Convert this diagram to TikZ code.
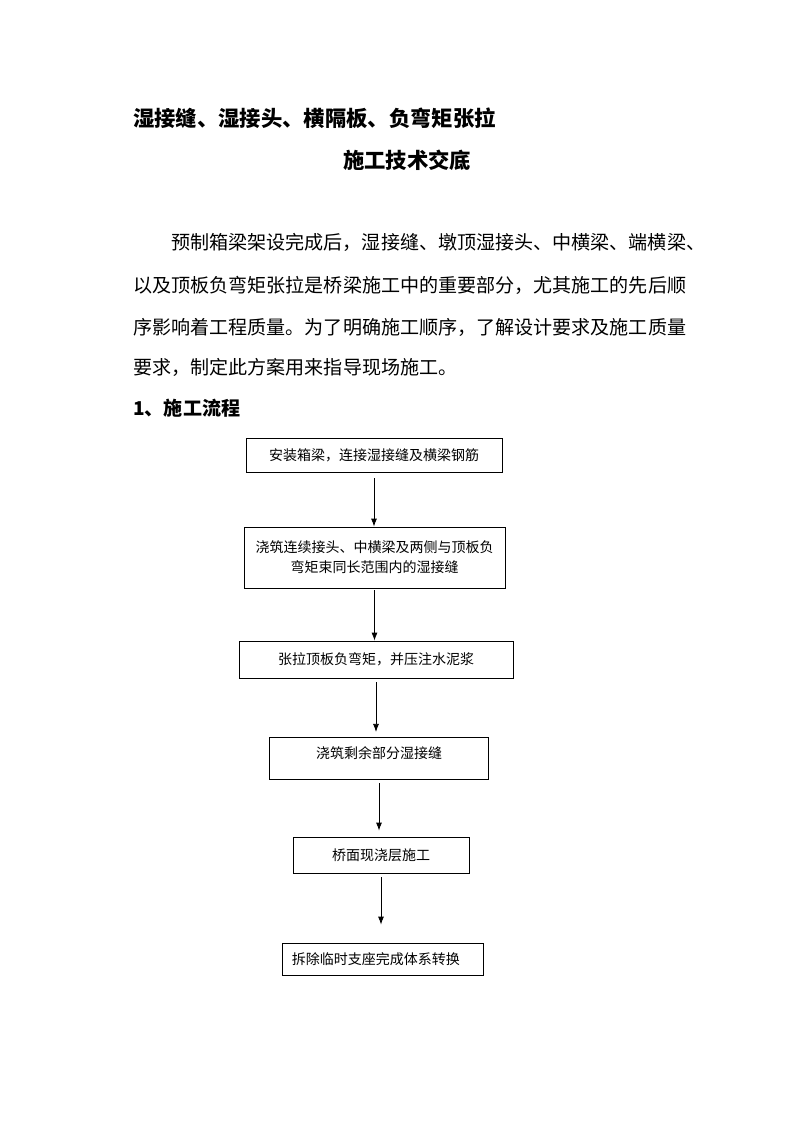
\documentclass[tikz,border=0pt]{standalone}
\usepackage{fontspec}
\setmainfont{Noto Sans CJK SC}
\usetikzlibrary{arrows.meta}

\begin{document}
\begin{tikzpicture}[x=0.75pt,y=-0.75pt,
		box/.style={draw,line width=0.6pt,inner sep=0pt,align=center,font=\fontsize{10.5pt}{15pt}\selectfont},
		flow/.style={-{Latex[length=6pt,width=4.5pt]},line width=0.6pt},
		body/.style={anchor=base west,inner sep=0pt,font=\fontsize{14.3pt}{16pt}\selectfont}]
		\useasboundingbox (0,0) rectangle (793,1122);
		%Titel
		\node [body,font=\fontsize{16pt}{18pt}\selectfont\bfseries] (title1) at (133,126) {湿接缝、湿接头、横隔板、负弯矩张拉};
		\node [body,font=\fontsize{16pt}{18pt}\selectfont\bfseries] (title2) at (343,168) {施工技术交底};
		%Text
		\node [body] (line1) at (171,249) {预制箱梁架设完成后，湿接缝、墩顶湿接头、中横梁、端横梁、};
		\node [body] (line2) at (133,292) {以及顶板负弯矩张拉是桥梁施工中的重要部分，尤其施工的先后顺};
		\node [body] (line3) at (133,334) {序影响着工程质量。为了明确施工顺序，了解设计要求及施工质量};
		\node [body] (line4) at (133,374) {要求，制定此方案用来指导现场施工。};
		\node [body,font=\fontsize{14.3pt}{16pt}\selectfont\bfseries] (head) at (133,415) {1、施工流程};
		%Ablauf
		\node [box,minimum width=192pt,minimum height=25.5pt] (b1) at (374,455) {安装箱梁，连接湿接缝及横梁钢筋};
		\node [box,minimum width=195.75pt,minimum height=45.75pt] (b2) at (374.5,557.5) {浇筑连续接头、中横梁及两侧与顶板负\\弯矩束同长范围内的湿接缝};
		\node [box,minimum width=205.5pt,minimum height=27.75pt] (b3) at (376,659.5) {张拉顶板负弯矩，并压注水泥浆};
		\node [box,minimum width=164.25pt,minimum height=31.5pt,text depth=8pt] (b4) at (379,758) {浇筑剩余部分湿接缝};
		\node [box,minimum width=132pt,minimum height=27pt] (b5) at (381,855) {桥面现浇层施工};
		\node [box,minimum width=150.75pt,minimum height=24pt,text width=136pt,align=left] (b6) at (382.5,959) {拆除临时支座完成体系转换};
		%Pfeile
		\draw [flow,shorten <=4.5pt] (b1.south) -- (b1.south |- b2.north);
		\draw [flow,shorten <=1.5pt] (b2.south) -- (b2.south |- b3.north);
		\draw [flow,shorten <=3pt,shorten >=3.5pt] (b3.south) -- (b3.south |- b4.north);
		\draw [flow,shorten <=3pt,shorten >=4.5pt] (b4.south) -- (b4.south |- b5.north);
		\draw [flow,shorten <=3pt,shorten >=13.5pt] (b5.south) -- (b5.south |- b6.north);
\end{tikzpicture}
\end{document}
